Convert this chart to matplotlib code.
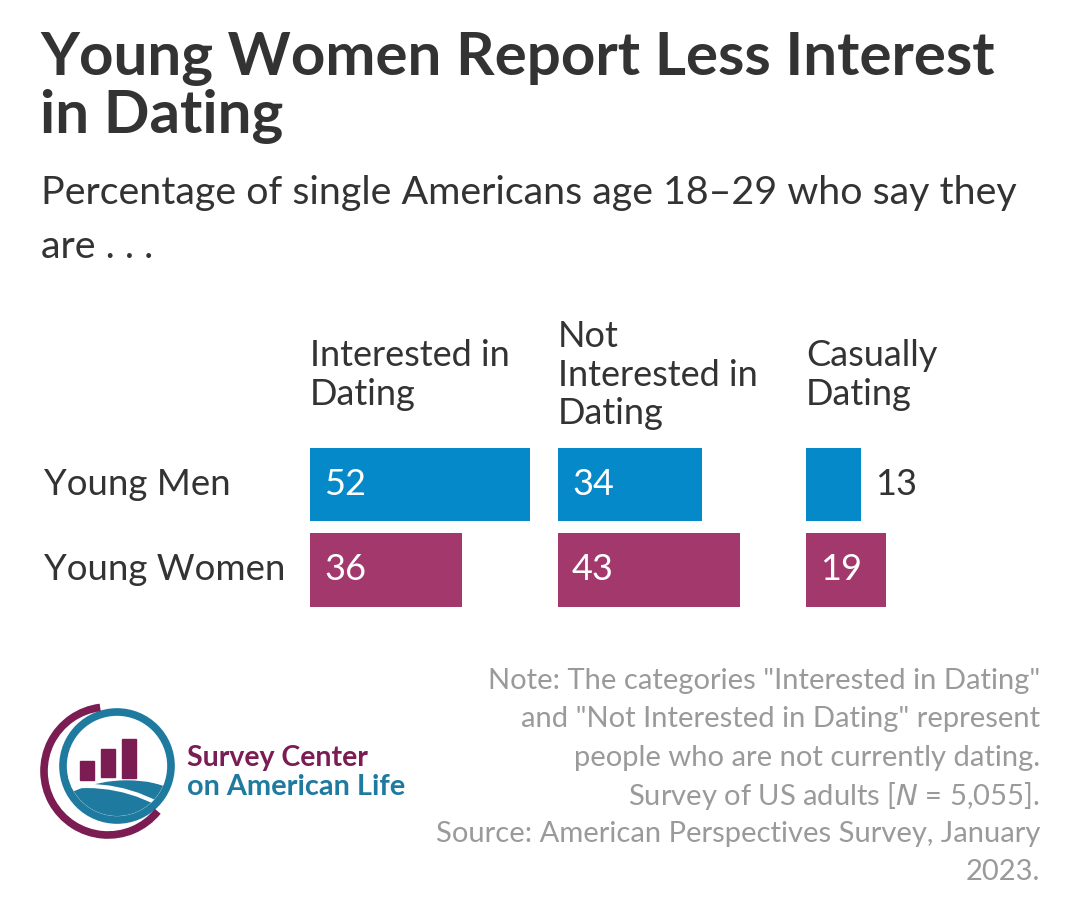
import numpy as np
import matplotlib.pyplot as plt
from matplotlib.patches import Circle, Arc, Rectangle

plt.rcParams['font.family'] = ['Lato', 'DejaVu Sans']

# data
groups = ['Young Men', 'Young Women']
categories = ['Interested in\nDating', 'Not\nInterested in\nDating', 'Casually\nDating']
men_vals = [52, 34, 13]
women_vals = [36, 43, 19]

blue = '#0689C9'
maroon = '#A3386D'
dark = '#333333'
grey = '#9a9a9a'
logo_red = '#7B1C52'
logo_blue = '#1F7AA0'

W, H = 1080, 899
fig = plt.figure(figsize=(W / 100, H / 100), dpi=100)
fig.patch.set_facecolor('white')


def fx(px):
    return px / W


def fy(py):
    return 1 - py / H


# title / subtitle
fig.text(fx(40), fy(75), 'Young Women Report Less Interest', fontsize=43.3, fontweight='bold',
         color=dark, va='baseline')
fig.text(fx(40), fy(133), 'in Dating', fontsize=43.3, fontweight='bold', color=dark, va='baseline')
fig.text(fx(41), fy(204), 'Percentage of single Americans age 18\u201329 who say they',
         fontsize=28.4, color=dark, va='baseline')
fig.text(fx(41), fy(258), 'are . . .', fontsize=28.4, color=dark, va='baseline')

# bar panels
px_per_unit = 4.23
panel_left = [310, 558, 806]
panel_w = 248
top_px, bot_px = 441.75, 612.75
for k, cat in enumerate(categories):
    ax = fig.add_axes([fx(panel_left[k]), fy(bot_px), panel_w / W, (bot_px - top_px) / H])
    vals = [men_vals[k], women_vals[k]]
    ax.barh([0, 1], vals, height=0.86, color=[blue, maroon])
    ax.set_xlim(0, panel_w / px_per_unit)
    ax.set_ylim(1.5, -0.5)
    ax.axis('off')
    pad = 14 / px_per_unit
    for i, v in enumerate(vals):
        if v < 15:
            ax.text(v + pad, i, str(v), color=dark, fontsize=26, va='center', ha='left')
        else:
            ax.text(pad, i, str(v), color='white', fontsize=26, va='center', ha='left')
    fig.text(fx(panel_left[k]), fy(375), cat, fontsize=26, color=dark, va='center',
             ha='left', linespacing=1.2)

for i, g in enumerate(groups):
    fig.text(fx(44), fy(484.5 + i * 85.5), g, fontsize=26.4, color=dark, va='center')

# note
note = ['Note: The categories "Interested in Dating"',
        'and "Not Interested in Dating" represent',
        'people who are not currently dating.',
        'Survey of US adults [$\\it{N}$ = 5,055].',
        'Source: American Perspectives Survey, January',
        '2023.']
for i, line in enumerate(note):
    fig.text(fx(1040), fy(681 + i * 38.3), line, fontsize=21, color=grey, ha='right', va='center')

# logo
lax = fig.add_axes([0, 0, 1, 1])
lax.set_xlim(0, W)
lax.set_ylim(H, 0)
lax.axis('off')
cx, cy = 117, 766
inner = Circle((cx, cy), 50, transform=lax.transData)
lax.add_patch(Circle((cx, cy), 54, fill=False, ec=logo_blue, lw=5.5))
lax.add_patch(Arc((108, 771), 128, 128, theta1=39, theta2=263, color=logo_red, lw=5.5))
hill = Circle((cx + 10, cy + 150), 135, color=logo_blue)
hill.set_clip_path(inner)
lax.add_patch(hill)
for r, off in [(150, 0), (180, 18)]:
    a = Circle((cx - 30 + off, cy + 170 + off), r, fill=False, ec='white', lw=3)
    a.set_clip_path(inner)
    lax.add_patch(a)
for x0, y0, h in [(80, 761, 19), (101, 749, 28), (122, 739, 39)]:
    lax.add_patch(Rectangle((x0, y0 + h), 14, -h, color=logo_red))
fig.text(fx(187), fy(758), 'Survey Center', fontsize=20.5, fontweight='bold', color=logo_red, va='center')
fig.text(fx(187), fy(787), 'on American Life', fontsize=20.8, fontweight='bold', color=logo_blue, va='center')

fig.savefig('out.png', dpi=100, facecolor='white')
